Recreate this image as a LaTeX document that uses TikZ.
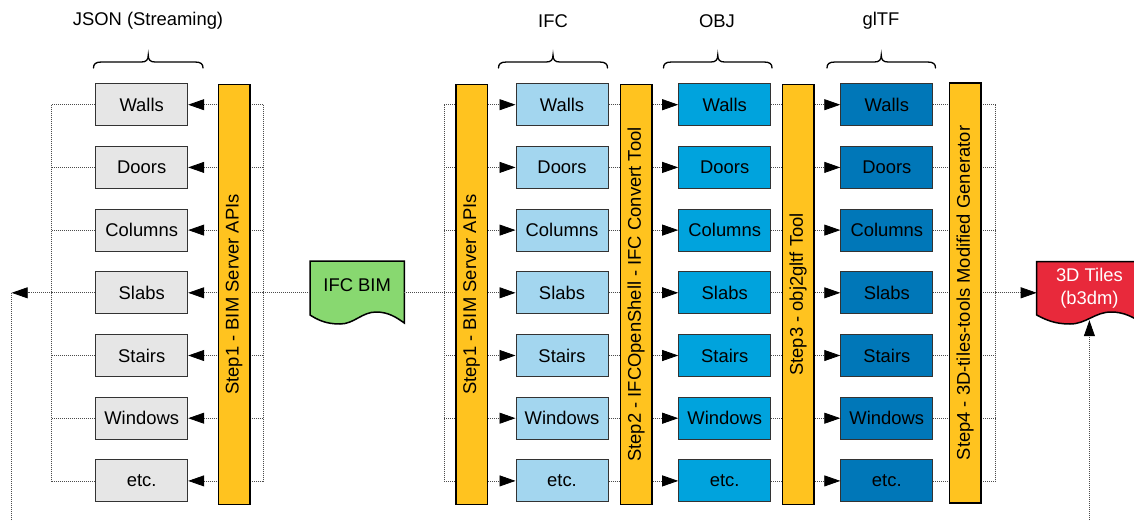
\documentclass[tikz,border=0pt]{standalone}
\usepackage{fontspec}
\setmainfont{Liberation Sans}
\usetikzlibrary{arrows.meta,calc}
\definecolor{boxgrey}{HTML}{E6E6E6}
\definecolor{ifcblue}{HTML}{A3D6EF}
\definecolor{objblue}{HTML}{00A3DD}
\definecolor{gltfblue}{HTML}{0077B8}
\definecolor{baryellow}{HTML}{FFC31F}
\definecolor{docgreen}{HTML}{88D870}
\definecolor{docred}{HTML}{E8293B}
\definecolor{edgegrey}{HTML}{333333}
\newcommand\mainfs{\fontsize{18.4}{22.5}\selectfont}
\newcommand\drawbrace[2]{%
  \pgfmathsetmacro\bxm{(#1+#2)/2}%
  \draw[bracestyle] (#1,68) .. controls (#1,64) and (#1+2,62) .. (#1+8,62) -- (\bxm-7,62)
    .. controls (\bxm-2,62) and (\bxm,60) .. (\bxm,55)
    .. controls (\bxm,60) and (\bxm+2,62) .. (\bxm+7,62) -- (#2-8,62)
    .. controls (#2-2,62) and (#2,64) .. (#2,68);}
\tikzset{
  lbl/.style={font=\mainfs, inner sep=0pt},
  item/.style={draw=edgegrey, line width=1pt, minimum width=92pt, minimum height=42pt, inner sep=0pt, font=\mainfs},
  jsonbox/.style={item, fill=boxgrey},
  ifcbox/.style={item, fill=ifcblue},
  objbox/.style={item, fill=objblue},
  gltfbox/.style={item, fill=gltfblue},
  stepbar/.style={draw=black, line width=1.5pt, fill=baryellow, rotate=90, minimum width=420pt, minimum height=31.5pt, inner sep=0pt, font=\mainfs},
  flow/.style={draw=black!70, line width=0.8pt, dash pattern=on 1pt off 1pt},
  arr/.style={flow, -{Triangle[length=16pt,width=11pt,color=black]}},
  bracestyle/.style={draw=black, line width=1.3pt, line cap=round},
  docstyle/.style={draw=black, line width=1.5pt},
  docnode/.style={inner sep=0pt, font=\mainfs, align=center},
}
\begin{document}
\begin{tikzpicture}[x=1pt,y=-1pt]
\useasboundingbox (0,0) rectangle (1134,520);
\clip (0,0) rectangle (1134,520);

% header labels
\node[lbl] (hjson) at (148,21) {JSON (Streaming)};
\node[lbl] (hifc) at (553,21) {IFC};
\node[lbl] (hobj) at (717,21) {OBJ};
\node[lbl] (hgltf) at (881,21) {glTF};

% braces
\drawbrace{93.5}{203}
\drawbrace{498.5}{607.5}
\drawbrace{663.5}{772}
\drawbrace{827}{935.5}

% document shapes
\draw[docstyle, fill=docgreen] (310,261) -- (404.3,261) -- (404.3,323)
  .. controls (396,317) and (388,312) .. (376,312)
  .. controls (362,312) and (354,324) .. (340,324)
  .. controls (326,324) and (318,320) .. (310,315) -- cycle;
\node[docnode, minimum width=94pt, minimum height=48pt] (bim) at (357.2,285) {IFC BIM};

\draw[docstyle, fill=docred] (1036.7,261.5) -- (1142,261.5) -- (1142,323)
  .. controls (1133,317) and (1124,312) .. (1111,312)
  .. controls (1095,312) and (1086,324) .. (1070,324)
  .. controls (1055,324) and (1046,320) .. (1036.7,315) -- cycle;
\node[docnode, text=white, minimum width=105pt, minimum height=52pt] (tiles) at (1089.4,288) {3D Tiles\\(b3dm)};

% item boxes
\foreach \t [count=\i] in {Walls,Doors,Columns,Slabs,Stairs,Windows,etc.}{
  \pgfmathsetmacro\yy{104.7+62.7*(\i-1)}
  \node[jsonbox] (j\i) at (141.7,\yy) {\t};
  \node[ifcbox] (i\i) at (562,\yy) {\t};
  \node[objbox] (o\i) at (724.7,\yy) {\t};
  \node[gltfbox] (g\i) at (886.8,\yy) {\t};
}

% bus coordinates
\coordinate (busLL) at (51.7,0);
\coordinate (busLR) at (263.3,0);
\coordinate (busM) at (444.3,0);
\coordinate (busR) at (995.7,0);
\coordinate (loopL) at (11.7,520);
\coordinate (loopR) at (1089.4,520);

% left group connectors
\draw[flow] (bim.west |- j4) -- (j4 -| busLR);
\draw[flow] (j1 -| busLR) -- (j7 -| busLR);
\draw[flow] (j1 -| busLL) -- (j7 -| busLL);
\foreach \i in {1,...,7}{
  \draw[arr] (j\i -| busLR) -- (j\i.east);
  \draw[flow] (j\i.west) -- (j\i -| busLL);
}
\draw[arr] (j4 -| busLL) -- (j4 -| loopL);
\draw[flow] (loopL) -- (j4 -| loopL);

% middle connectors
\draw[flow] (bim.east |- i4) -- (i4 -| busM);
\draw[flow] (i1 -| busM) -- (i7 -| busM);
\draw[flow] (g1 -| busR) -- (g7 -| busR);
\foreach \i in {1,...,7}{
  \draw[arr] (i\i -| busM) -- (i\i.west);
  \draw[arr] (i\i.east) -- (o\i.west);
  \draw[arr] (o\i.east) -- (g\i.west);
  \draw[flow] (g\i.east) -- (g\i -| busR);
}
\draw[arr] (g4 -| busR) -- (tiles.west |- g4);
\draw[arr] (loopR) -- ($(tiles.south)+(0,6)$);

% step bars (over the connectors)
\node[stepbar] (s1a) at (234.2,294.5) {Step1 - BIM Server APIs};
\node[stepbar] (s1b) at (471.5,294.5) {Step1 - BIM Server APIs};
\node[stepbar] (s2) at (636.2,294.5) {Step2 - IFCOpenShell - IFC Convert Tool};
\node[stepbar] (s3) at (798,294.5) {Step3 - obj2gltf Tool};
\node[stepbar] (s4) at (965,293) {Step4 - 3D-tiles-tools Modified Generator};
\end{tikzpicture}
\end{document}
